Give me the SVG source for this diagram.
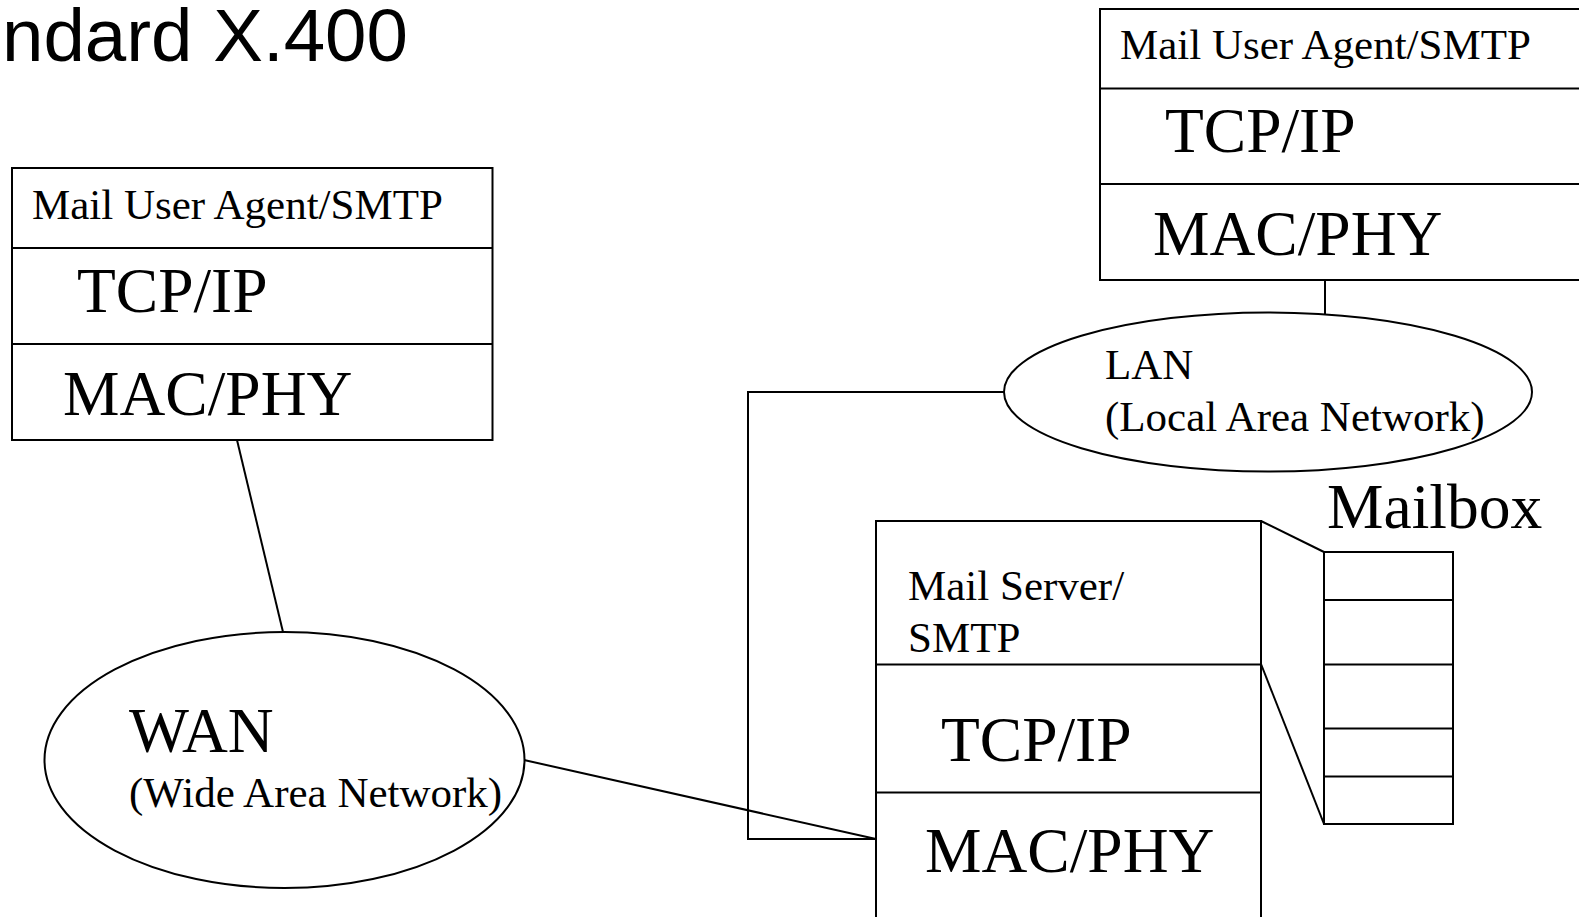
<svg xmlns="http://www.w3.org/2000/svg" width="1579" height="917" viewBox="0 0 1579 917">
<style>
.s{fill:none;stroke:#000;stroke-width:2}
.w{fill:#fff;stroke:#000;stroke-width:2}
.t{font-family:"Liberation Serif","Times New Roman",serif;fill:#000}
.sm{font-size:43px}
.lg{font-size:63.5px}
.title{font-family:"Liberation Sans",Arial,sans-serif;font-size:74.5px;fill:#000}
</style>
<rect width="1579" height="917" fill="#fff"/>
<text class="title" x="2" y="61">ndard X.400</text>
<g id="connectors">
<line class="s" x1="237" y1="440" x2="283" y2="632"/>
<line class="s" x1="524" y1="760" x2="876" y2="839"/>
<polyline class="s" points="1004,392 748,392 748,839 876,839"/>
<line class="s" x1="1325" y1="280" x2="1325" y2="314"/>
<line class="s" x1="1261" y1="521" x2="1324" y2="552"/>
<line class="s" x1="1261" y1="664" x2="1324" y2="824"/>
</g>
<g id="left-host">
<rect class="w" x="12" y="168" width="480.5" height="272"/>
<line class="s" x1="12" y1="248" x2="492.5" y2="248"/>
<line class="s" x1="12" y1="344" x2="492.5" y2="344"/>
<text class="t sm" x="32" y="219">Mail User Agent/SMTP</text>
<text class="t lg" x="77" y="312">TCP/IP</text>
<text class="t lg" x="63" y="415">MAC/PHY</text>
</g>
<g id="right-host">
<rect class="w" x="1100" y="9" width="490" height="271"/>
<line class="s" x1="1100" y1="88.5" x2="1590" y2="88.5"/>
<line class="s" x1="1100" y1="184" x2="1590" y2="184"/>
<text class="t sm" x="1120" y="59">Mail User Agent/SMTP</text>
<text class="t lg" x="1165" y="152">TCP/IP</text>
<text class="t lg" x="1153" y="255">MAC/PHY</text>
</g>
<g id="lan">
<ellipse class="w" cx="1268" cy="392" rx="264" ry="79.5"/>
<text class="t sm" x="1105" y="379">LAN</text>
<text class="t sm" x="1105" y="431">(Local Area Network)</text>
</g>
<g id="wan">
<ellipse class="w" cx="284.5" cy="760" rx="240" ry="128"/>
<text class="t lg" x="129" y="752">WAN</text>
<text class="t sm" x="129" y="807">(Wide Area Network)</text>
</g>
<g id="mail-server">
<rect class="w" x="876" y="521" width="385" height="420"/>
<line class="s" x1="876" y1="664.5" x2="1261" y2="664.5"/>
<line class="s" x1="876" y1="792.5" x2="1261" y2="792.5"/>
<text class="t sm" x="908" y="600">Mail Server/</text>
<text class="t sm" x="908" y="651.5">SMTP</text>
<text class="t lg" x="941" y="761">TCP/IP</text>
<text class="t lg" x="925" y="872">MAC/PHY</text>
</g>
<g id="mailbox">
<text class="t lg" x="1327" y="528">Mailbox</text>
<rect class="w" x="1324" y="552" width="129" height="272"/>
<line class="s" x1="1324" y1="600" x2="1453" y2="600"/>
<line class="s" x1="1324" y1="664.5" x2="1453" y2="664.5"/>
<line class="s" x1="1324" y1="728.5" x2="1453" y2="728.5"/>
<line class="s" x1="1324" y1="776.5" x2="1453" y2="776.5"/>
</g>
</svg>
